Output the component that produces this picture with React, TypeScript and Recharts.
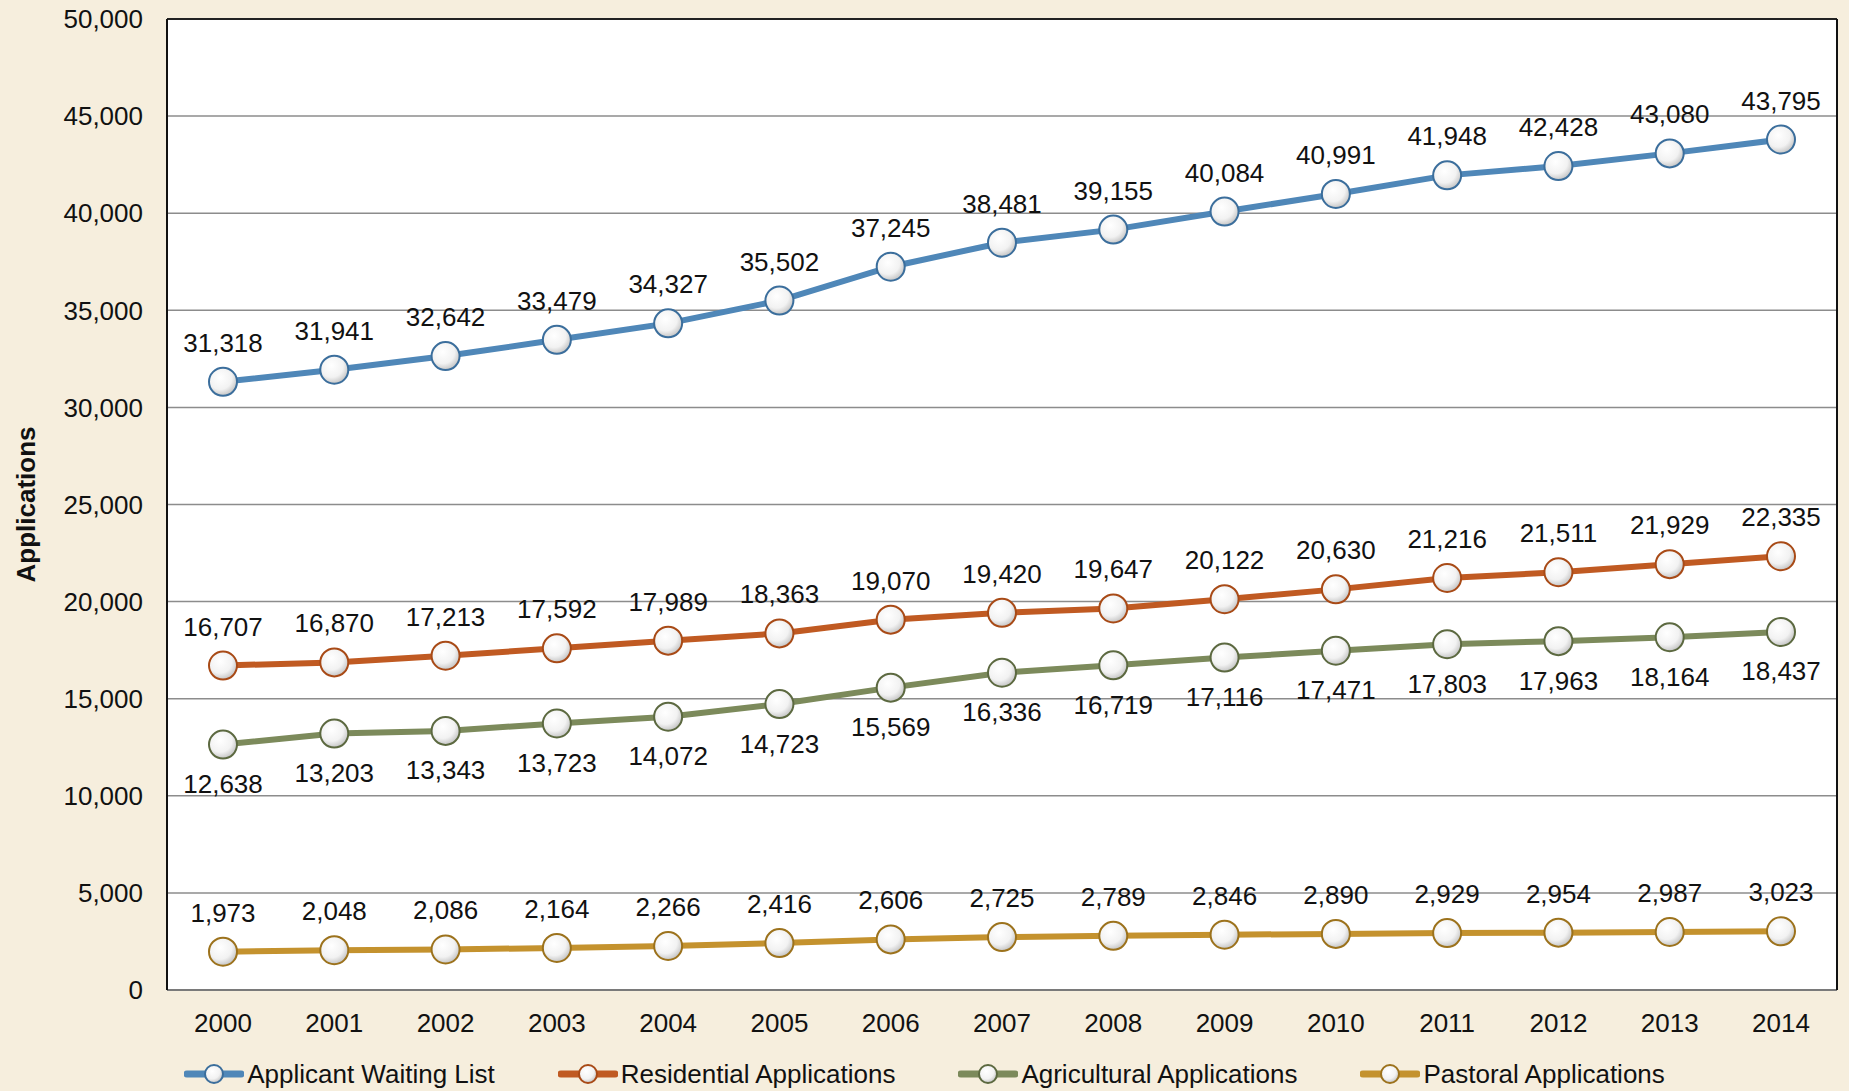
import React from "react";
import {
  LineChart,
  Line,
  XAxis,
  YAxis,
  CartesianGrid,
  Legend,
  LabelList,
  ReferenceLine,
} from "recharts";

const years = ["2000", "2001", "2002", "2003", "2004", "2005", "2006", "2007", "2008", "2009", "2010", "2011", "2012", "2013", "2014"];
const waitingList = [31318, 31941, 32642, 33479, 34327, 35502, 37245, 38481, 39155, 40084, 40991, 41948, 42428, 43080, 43795];
const residential = [16707, 16870, 17213, 17592, 17989, 18363, 19070, 19420, 19647, 20122, 20630, 21216, 21511, 21929, 22335];
const agricultural = [12638, 13203, 13343, 13723, 14072, 14723, 15569, 16336, 16719, 17116, 17471, 17803, 17963, 18164, 18437];
const pastoral = [1973, 2048, 2086, 2164, 2266, 2416, 2606, 2725, 2789, 2846, 2890, 2929, 2954, 2987, 3023];
const yTicks = [0, 5000, 10000, 15000, 20000, 25000, 30000, 35000, 40000, 45000, 50000];

const data = years.map((year, i) => ({
  year,
  waiting: waitingList[i],
  residential: residential[i],
  agricultural: agricultural[i],
  pastoral: pastoral[i],
}));

const series = [
  { key: "waiting", name: "Applicant Waiting List", color: "#4f87b8", edge: "#3b6e9c", labelPos: "top" },
  { key: "residential", name: "Residential Applications", color: "#c05a22", edge: "#a84a16", labelPos: "top" },
  { key: "agricultural", name: "Agricultural Applications", color: "#7c8a5b", edge: "#5c6940", labelPos: "bottom" },
  { key: "pastoral", name: "Pastoral Applications", color: "#c4922e", edge: "#9c721c", labelPos: "top" },
];

const FONT = '"Liberation Sans", Arial, Helvetica, sans-serif';
const fmt = (v: number) => (v === 0 ? "0" : v.toLocaleString("en-US"));

const makeDot = (edge: string) => (props: any) => {
  const { cx, cy, index } = props;
  if (cx == null || cy == null) return null;
  return (
    <circle
      key={`dot-${edge}-${index}`}
      cx={cx}
      cy={cy}
      r={14}
      fill="url(#dotGrad)"
      stroke={edge}
      strokeWidth={2}
    />
  );
};

const LegendContent = () => (
  <div
    style={{
      display: "flex",
      justifyContent: "center",
      alignItems: "center",
      gap: 63,
      height: 34,
      fontFamily: FONT,
      fontSize: 26,
      color: "#111",
    }}
  >
    {series.map((s) => (
      <div key={s.key} style={{ display: "flex", alignItems: "center" }}>
        <svg width={60} height={24} style={{ marginRight: 3 }}>
          <defs>
            <radialGradient id={`lg-${s.key}`} cx="40%" cy="35%" r="70%">
              <stop offset="0%" stopColor="#ffffff" />
              <stop offset="60%" stopColor="#f2f2f2" />
              <stop offset="100%" stopColor="#bdbdbd" />
            </radialGradient>
          </defs>
          <line x1={3} y1={12} x2={57} y2={12} stroke={s.color} strokeWidth={7} strokeLinecap="round" />
          <circle cx={30} cy={12} r={9} fill={`url(#lg-${s.key})`} stroke={s.edge} strokeWidth={2} />
        </svg>
        <span>{s.name}</span>
      </div>
    ))}
  </div>
);

export default function App() {
  return (
    <div
      style={{
        position: "absolute",
        left: 0,
        top: 0,
        width: 1849,
        height: 1091,
        background: "#f6eedd",
        fontFamily: FONT,
      }}
    >
      <LineChart
        width={1849}
        height={1091}
        data={data}
        margin={{ top: 19, right: 0, left: 0, bottom: 0 }}
        style={{ fontFamily: FONT }}
      >
        <defs>
          <radialGradient id="dotGrad" cx="40%" cy="35%" r="70%">
            <stop offset="0%" stopColor="#ffffff" />
            <stop offset="60%" stopColor="#f2f2f2" />
            <stop offset="100%" stopColor="#bdbdbd" />
          </radialGradient>
        </defs>
        <CartesianGrid vertical={false} fill="#ffffff" stroke="#8c8c8c" strokeWidth={1.5} />
        <XAxis
          dataKey="year"
          padding={{ left: 56, right: 56 }}
          tickLine={false}
          axisLine={{ stroke: "#7a7a7a", strokeWidth: 2 }}
          tick={{ fill: "#111", fontSize: 26 }}
          tickMargin={18}
          height={67}
          interval={0}
        />
        <YAxis
          width={167}
          domain={[0, 50000]}
          ticks={yTicks}
          tickFormatter={fmt}
          tickLine={false}
          axisLine={{ stroke: "#111", strokeWidth: 2 }}
          tick={{ fill: "#111", fontSize: 26 }}
          tickMargin={18}
          interval={0}
          label={{
            value: "Applications",
            angle: -90,
            position: "insideLeft",
            offset: 26,
            style: { fill: "#111", fontSize: 26, fontWeight: "bold", textAnchor: "middle" },
          }}
        />
        <YAxis
          yAxisId="right"
          orientation="right"
          width={12}
          domain={[0, 50000]}
          tick={false}
          tickLine={false}
          axisLine={{ stroke: "#111", strokeWidth: 2 }}
        />
        <ReferenceLine y={50000} stroke="#222" strokeWidth={2} />
        {series.map((s) => (
          <Line
            key={s.key}
            type="linear"
            dataKey={s.key}
            name={s.name}
            stroke={s.color}
            strokeWidth={6}
            dot={makeDot(s.edge)}
            activeDot={false}
            isAnimationActive={false}
          >
            <LabelList
              dataKey={s.key}
              position={s.labelPos as any}
              offset={30}
              formatter={(v: any) => fmt(Number(v))}
              fill="#111"
              fontSize={26}
            />
          </Line>
        ))}
        <Legend verticalAlign="bottom" content={<LegendContent />} />
      </LineChart>
    </div>
  );
}
